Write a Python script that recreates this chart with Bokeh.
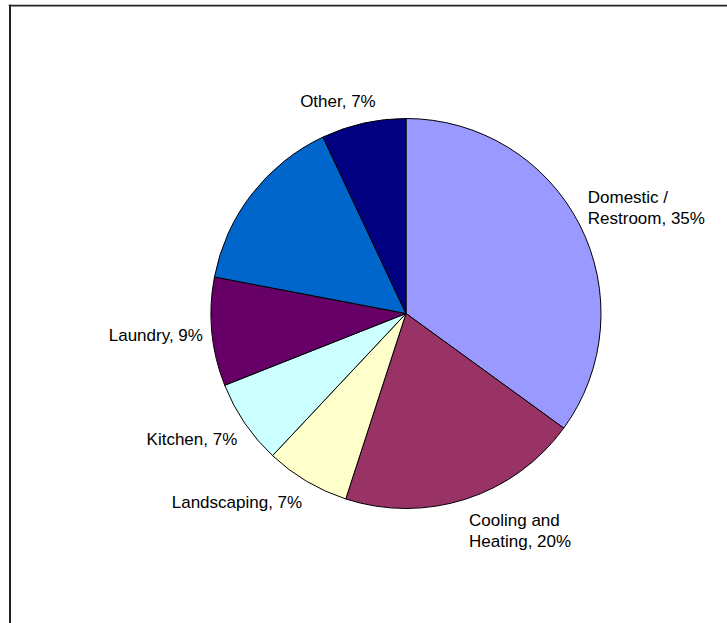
import math
from bokeh.plotting import figure
from bokeh.models import ColumnDataSource, Span, Range1d
from bokeh.embed import file_html
from bokeh.resources import INLINE
from bokeh.core.properties import value, field

# ---- data ----
categories = ["Domestic /\nRestroom", "Cooling and\nHeating", "Landscaping",
              "Kitchen", "Laundry", "", "Other"]
shares = [35, 20, 7, 7, 9, 15, 7]
show_label = [True, True, True, True, True, False, True]
colors = ["#9999FF", "#993366", "#FFFFCC", "#CCFFFF", "#660066", "#0066CC", "#000080"]

# ---- layout ----
W, H = 719, 619
CX, CY, R = 397.5, 310, 195
R_LABEL = 208
R_LABEL_X = 204

total = float(sum(shares))
starts, ends, lx, ly, labels, aligns, bases = [], [], [], [], [], [], []
cum = 0.0
for cat, s, show in zip(categories, shares, show_label):
    a0 = math.pi / 2 - 2 * math.pi * cum / total
    cum += s
    a1 = math.pi / 2 - 2 * math.pi * cum / total
    starts.append(a0)
    ends.append(a1)
    mid = (a0 + a1) / 2
    c, sn = math.cos(mid), math.sin(mid)
    labels.append(f"{cat}, {s}%" if show else "")
    if abs(c) < 0.3:
        aligns.append("center")
        lx.append(CX + 1.5 * R_LABEL * c)
    else:
        aligns.append("left" if c > 0 else "right")
        lx.append(CX + R_LABEL_X * c)
    if sn > 0.5:
        bases.append("bottom")
        ly.append(CY + R_LABEL * sn)
    elif sn < -0.5:
        bases.append("top")
        ly.append(CY + R_LABEL * sn)
    else:
        bases.append("middle")
        ly.append(CY + 1.12 * R_LABEL * sn)

src = ColumnDataSource(dict(start=starts, end=ends, color=colors,
                            x=[CX] * len(shares), y=[CY] * len(shares)))
lsrc = ColumnDataSource(dict(x=lx, y=ly, text=labels, align=aligns, base=bases))

p = figure(width=W, height=H, output_backend="svg", toolbar_location=None,
           x_range=Range1d(0, W), y_range=Range1d(0, H),
           min_border=0, margin=(4, 0, 0, 8))
p.axis.visible = False
p.grid.visible = False
p.outline_line_color = None
p.background_fill_color = "white"
p.border_fill_color = "white"

p.wedge(x="x", y="y", radius=R, start_angle="start", end_angle="end",
        direction="clock", fill_color="color", line_color="black",
        line_width=1, source=src)

p.text(x="x", y="y", text="text", source=lsrc,
       text_align=field("align"), text_baseline=field("base"),
       text_font=value("Liberation Sans"), text_font_size="17px",
       text_color="black", text_line_height=1.1)

p.add_layout(Span(location=1.5, dimension="height", line_color="#222222", line_width=2))
p.add_layout(Span(location=H - 1, dimension="width", line_color="#222222", line_width=2))

open("out.html", "w").write(file_html(p, INLINE))
